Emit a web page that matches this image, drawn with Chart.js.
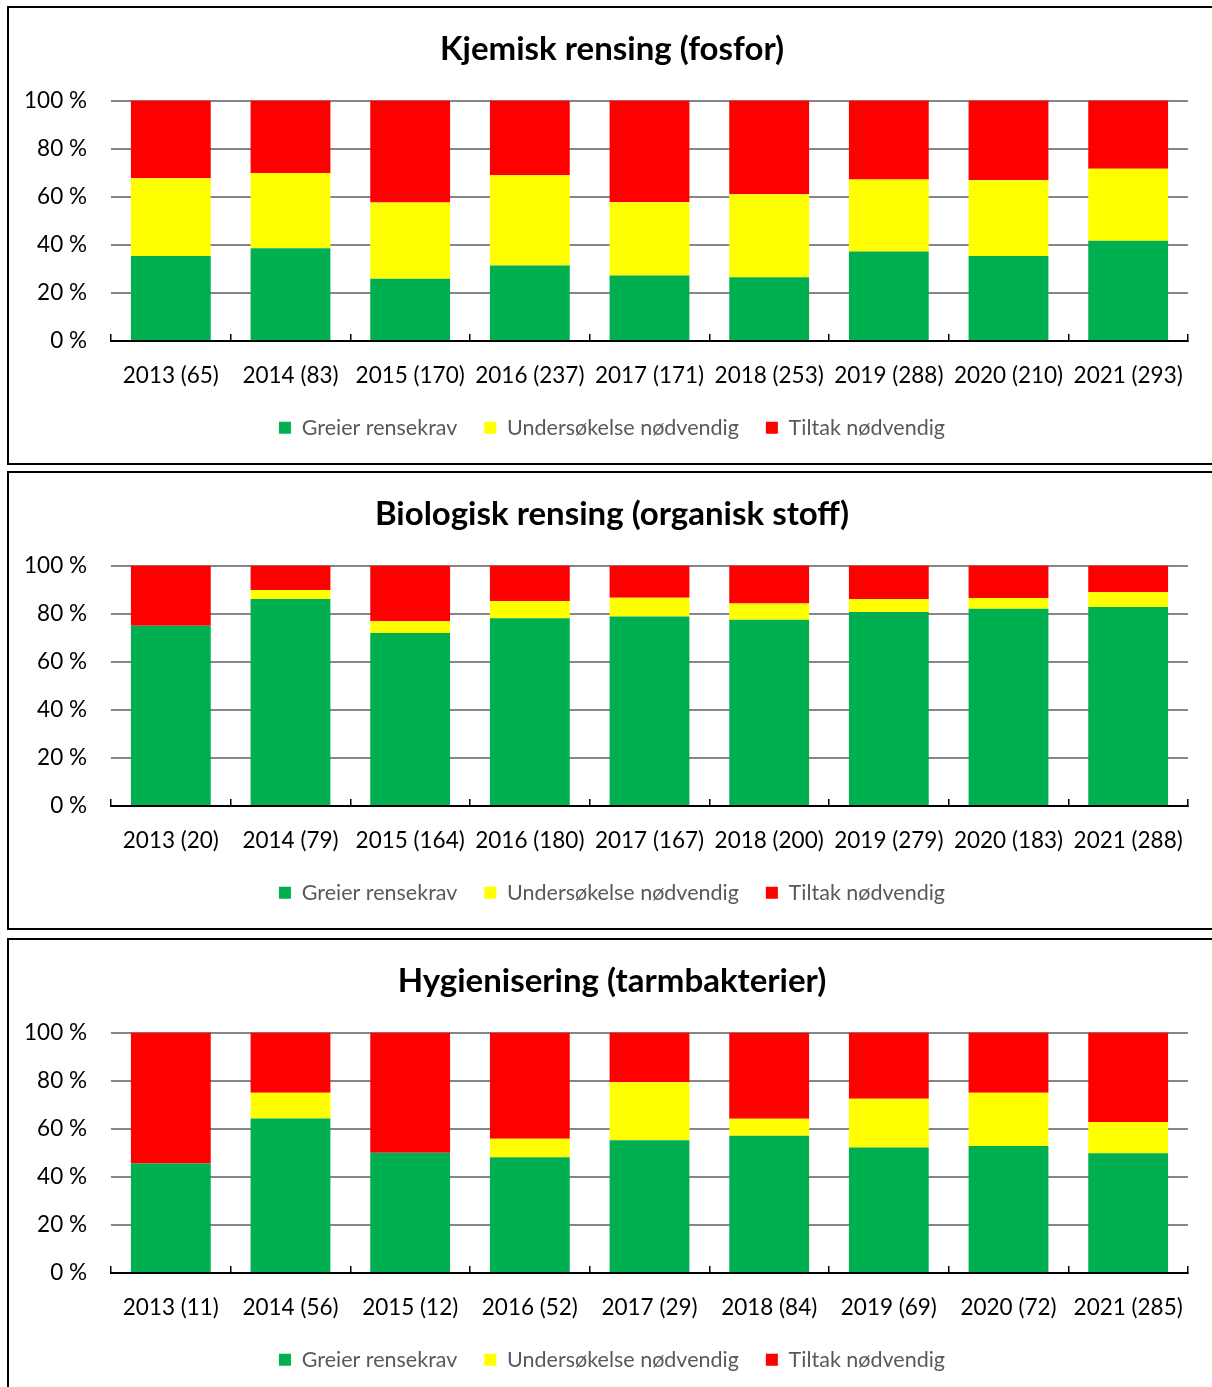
<!DOCTYPE html>
<html>
<head>
<meta charset="utf-8">
<script src="https://cdn.jsdelivr.net/npm/chart.js@4"></script>
<style>
  html, body { margin: 0; padding: 0; background: #fff; overflow: hidden; }
  body { width: 1212px; height: 1387px; position: relative; }
  .panel { position: absolute; left: 7px; width: 1211px; height: 459px; border: 2px solid #000; box-sizing: border-box; }
  .panel canvas { display: block; }
</style>
</head>
<body>
<div class="panel" style="top:6px"><canvas id="c1" width="1207" height="455"></canvas></div>
<div class="panel" style="top:471px"><canvas id="c2" width="1207" height="455"></canvas></div>
<div class="panel" style="top:938px"><canvas id="c3" width="1207" height="455"></canvas></div>
<script>
// shares in percent
const kjemiskLabels = ["2013 (65)", "2014 (83)", "2015 (170)", "2016 (237)", "2017 (171)", "2018 (253)", "2019 (288)", "2020 (210)", "2021 (293)"];
const kjemiskGreen  = [35.4, 38.6, 25.9, 31.4, 27.2, 26.5, 37.2, 35.4, 41.7];
const kjemiskYellow = [32.3, 31.3, 31.7, 37.5, 30.5, 34.5, 30.0, 31.5, 30.0];
const kjemiskRed    = [32.3, 30.1, 42.4, 31.1, 42.3, 39.0, 32.8, 33.1, 28.3];

const bioLabels = ["2013 (20)", "2014 (79)", "2015 (164)", "2016 (180)", "2017 (167)", "2018 (200)", "2019 (279)", "2020 (183)", "2021 (288)"];
const bioGreen  = [75.0, 86.1, 72.0, 78.1, 78.8, 77.5, 80.7, 82.1, 82.8];
const bioYellow = [0, 3.8, 4.9, 7.2, 7.8, 6.7, 5.4, 4.4, 6.2];
const bioRed    = [25.0, 10.1, 23.1, 14.7, 13.4, 15.8, 13.9, 13.5, 11.0];

const hygLabels = ["2013 (11)", "2014 (56)", "2015 (12)", "2016 (52)", "2017 (29)", "2018 (84)", "2019 (69)", "2020 (72)", "2021 (285)"];
const hygGreen  = [45.5, 64.3, 50.0, 48.1, 55.2, 57.1, 52.2, 52.8, 49.8];
const hygYellow = [0, 10.7, 0, 7.7, 24.1, 7.1, 20.3, 22.2, 13.0];
const hygRed    = [54.5, 25.0, 50.0, 44.2, 20.7, 35.7, 27.5, 25.0, 37.2];

const seriesNames = ["Greier rensekrav", "Undersøkelse nødvendig", "Tiltak nødvendig"];
const yTicks = [0, 20, 40, 60, 80, 100];

const FONT = "Lato, 'Open Sans', sans-serif";

function makeChart(id, title, labels, green, yellow, red) {
  const ctx = document.getElementById(id).getContext("2d");
  return new Chart(ctx, {
    type: "bar",
    data: {
      labels: labels,
      datasets: [
        { label: seriesNames[0], data: green, backgroundColor: "#00B050" },
        { label: seriesNames[1], data: yellow, backgroundColor: "#FFFF00" },
        { label: seriesNames[2], data: red, backgroundColor: "#FF0000" },
      ],
    },
    options: {
      responsive: false,
      animation: false,
      categoryPercentage: 0.667,
      barPercentage: 1,
      layout: { padding: { left: 16, right: 17, top: 0, bottom: 14.5 } },
      plugins: {
        tooltip: { enabled: false },
        title: {
          display: true,
          text: title,
          color: "#000",
          font: { family: FONT, size: 33, weight: "bold" },
          padding: { top: 22, bottom: 31 },
        },
        legend: {
          position: "bottom",
          labels: {
            boxWidth: 12,
            boxHeight: 12,
            padding: 27,
            color: "#595959",
            font: { family: FONT, size: 21.5 },
          },
        },
      },
      scales: {
        x: {
          stacked: true,
          grid: {
            offset: true,
            drawOnChartArea: false,
            drawTicks: true,
            tickLength: -7,
            color: "#000",
            lineWidth: 1.5,
          },
          border: { display: true, color: "#000", width: 2 },
          ticks: { color: "#000", padding: 28.5, font: { family: FONT, size: 22.5 }, maxRotation: 0, autoSkip: false },
          afterFit: (s) => { s.height = 49; },
        },
        y: {
          stacked: true,
          min: 0,
          max: 100,
          afterBuildTicks: (s) => { s.ticks = yTicks.map((v) => ({ value: v })); },
          grid: {
            drawTicks: false,
            color: (c) => (c.tick && c.tick.value === 0 ? "rgba(0,0,0,0)" : "#868686"),
            lineWidth: 2,
          },
          border: { display: false },
          ticks: {
            color: "#000",
            padding: 24,
            font: { family: FONT, size: 22.5 },
            callback: (v) => v + " %",
          },
          afterFit: (s) => { s.width = 86; },
        },
        // empty strip on the right so the title sits where it does in the original
        yRight: {
          position: "right",
          display: true,
          grid: { display: false },
          border: { display: false },
          ticks: { display: false },
          afterFit: (s) => { s.width = 11; },
        },
      },
    },
  });
}

makeChart("c1", "Kjemisk rensing (fosfor)", kjemiskLabels, kjemiskGreen, kjemiskYellow, kjemiskRed);
makeChart("c2", "Biologisk rensing (organisk stoff)", bioLabels, bioGreen, bioYellow, bioRed);
makeChart("c3", "Hygienisering (tarmbakterier)", hygLabels, hygGreen, hygYellow, hygRed);
</script>
</body>
</html>
